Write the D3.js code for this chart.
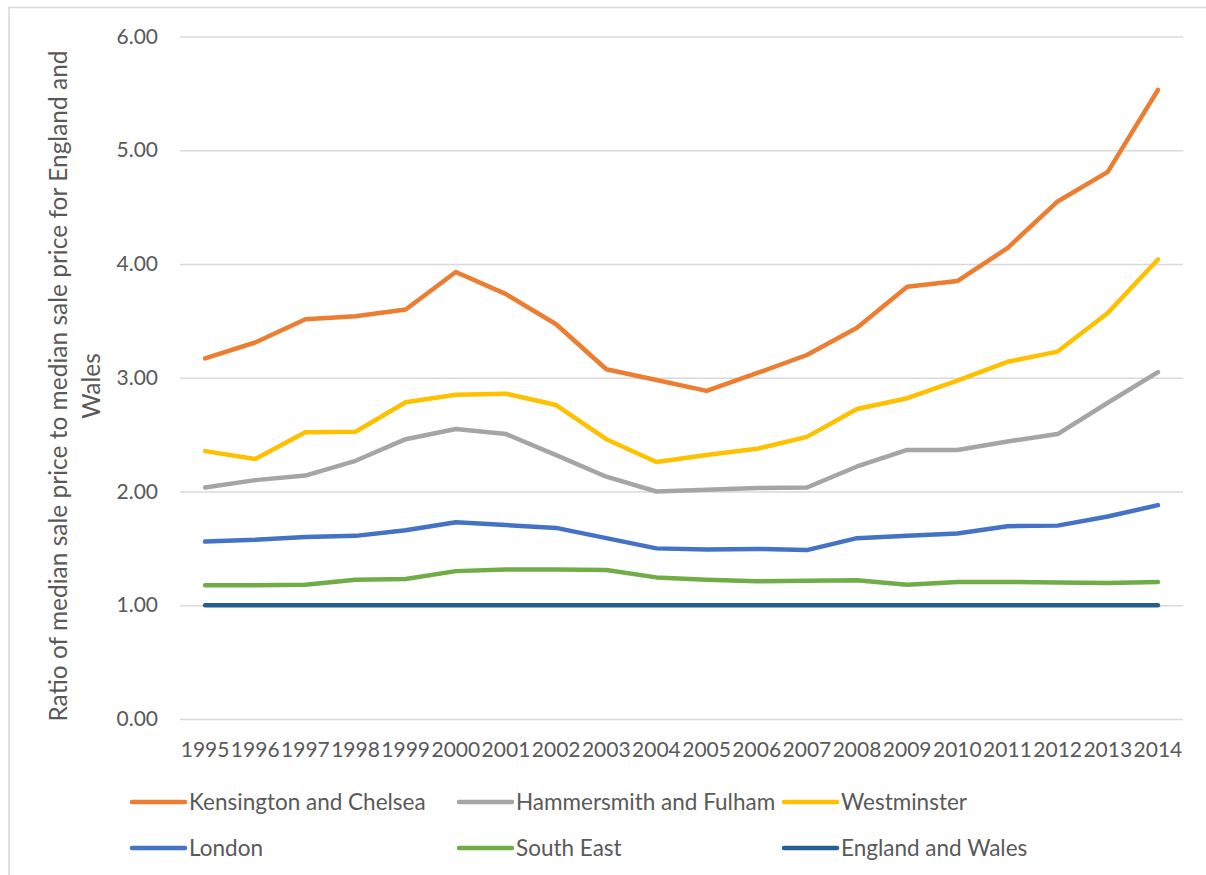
<!DOCTYPE html>
<html>
<head>
<meta charset="utf-8">
<script src="https://cdn.jsdelivr.net/npm/d3@7"></script>
<style>
  html, body { margin: 0; padding: 0; background: #ffffff; }
  svg { display: block; }
  text { font-family: Lato, "Open Sans", sans-serif; fill: #595959; }
</style>
</head>
<body>
<svg id="chart" width="1206" height="875"></svg>
<script>
// Ratio of median sale price to the England & Wales median, 1995–2014
const years = ["1995","1996","1997","1998","1999","2000","2001","2002","2003","2004",
               "2005","2006","2007","2008","2009","2010","2011","2012","2013","2014"];

const kensingtonChelsea = [3.17,3.31,3.515,3.54,3.60,3.93,3.735,3.47,3.075,2.98,
                           2.885,3.04,3.20,3.44,3.80,3.85,4.14,4.55,4.81,5.53];
const hammersmithFulham = [2.035,2.10,2.14,2.27,2.46,2.55,2.505,2.32,2.13,2.00,
                           2.015,2.03,2.035,2.22,2.365,2.365,2.44,2.505,2.78,3.05];
const westminster       = [2.355,2.285,2.52,2.525,2.785,2.85,2.86,2.76,2.46,2.26,
                           2.32,2.375,2.48,2.725,2.82,2.975,3.14,3.23,3.57,4.04];
const london            = [1.56,1.575,1.60,1.61,1.66,1.73,1.705,1.68,1.59,1.50,
                           1.49,1.495,1.485,1.59,1.61,1.63,1.695,1.70,1.78,1.88];
const southEast         = [1.175,1.175,1.18,1.225,1.23,1.30,1.315,1.315,1.31,1.245,
                           1.225,1.21,1.215,1.22,1.18,1.205,1.205,1.20,1.195,1.205];
const englandWales      = [1,1,1,1,1,1,1,1,1,1,1,1,1,1,1,1,1,1,1,1];

const seriesNames  = ["Kensington and Chelsea","Hammersmith and Fulham","Westminster",
                      "London","South East","England and Wales"];
const seriesValues = [kensingtonChelsea, hammersmithFulham, westminster,
                      london, southEast, englandWales];
const seriesColors = ["#ED7D31","#A5A5A5","#FFC000","#4472C4","#70AD47","#255E91"];

const yTicks = [0,1,2,3,4,5,6];
const yTitleLines = ["Ratio of median sale price to median sale price for England and", "Wales"];

const svg = d3.select("#chart");

// outer chart frame
svg.append("rect")
  .attr("x", 9).attr("y", 7.5)
  .attr("width", 1210).attr("height", 880)
  .attr("fill", "none").attr("stroke", "#d9d9d9").attr("stroke-width", 1.5);

const plot = { left: 180, right: 1183, top: 36.5, bottom: 719 };

const x = d3.scaleBand().domain(years).range([plot.left, plot.right]).padding(0);
const y = d3.scaleLinear().domain([0, 6]).range([plot.bottom, plot.top]);
const cx = d => x(d) + x.bandwidth() / 2;

// horizontal gridlines + value labels
const yAxis = svg.append("g")
  .attr("transform", `translate(${plot.left},0)`)
  .call(d3.axisLeft(y).tickValues(yTicks).tickFormat(d3.format(".2f"))
        .tickSize(-(plot.right - plot.left)).tickPadding(22));
yAxis.select(".domain").remove();
yAxis.selectAll(".tick line").attr("stroke", "#d9d9d9").attr("stroke-width", 1.5);
yAxis.selectAll(".tick text").attr("font-size", 21).attr("fill", "#595959");

// year labels
const xAxis = svg.append("g")
  .attr("transform", `translate(0,${plot.bottom})`)
  .call(d3.axisBottom(x).tickSize(0).tickPadding(23));
xAxis.select(".domain").remove();
xAxis.selectAll(".tick text").attr("font-size", 21).attr("fill", "#595959");

// y axis title, two lines, rotated
const yTitle = svg.append("text")
  .attr("transform", "translate(67,386) rotate(-90)")
  .attr("text-anchor", "middle")
  .attr("font-size", 24.5);
yTitle.selectAll("tspan").data(yTitleLines).join("tspan")
  .attr("x", 0)
  .attr("dy", (d, i) => i === 0 ? 0 : 33)
  .text(d => d);

// series lines
const line = d3.line().x((d, i) => cx(years[i])).y(d => y(d));
svg.append("g").selectAll("path")
  .data(seriesValues)
  .join("path")
  .attr("d", d => line(d))
  .attr("fill", "none")
  .attr("stroke", (d, i) => seriesColors[i])
  .attr("stroke-width", 4.5)
  .attr("stroke-linecap", "round")
  .attr("stroke-linejoin", "round");

// legend: three columns, two rows
const legendCols = [130, 457, 782];
const legendRows = [802, 848];
const legend = svg.append("g").selectAll("g")
  .data(seriesNames)
  .join("g")
  .attr("transform", (d, i) => `translate(${legendCols[i % 3]},${legendRows[Math.floor(i / 3)]})`);
legend.append("line")
  .attr("x1", 2).attr("x2", 55).attr("y1", 0).attr("y2", 0)
  .attr("stroke", (d, i) => seriesColors[i])
  .attr("stroke-width", 4.5)
  .attr("stroke-linecap", "round");
legend.append("text")
  .attr("x", 59).attr("y", 0).attr("dy", "0.35em")
  .attr("font-size", 22.5)
  .text(d => d);
</script>
</body>
</html>
